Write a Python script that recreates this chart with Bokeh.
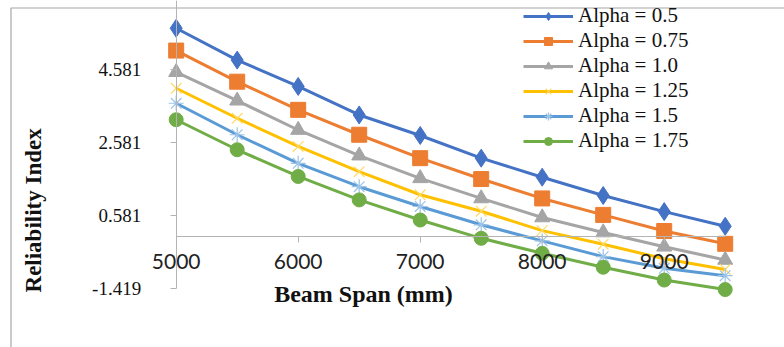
from bokeh.plotting import figure
from bokeh.models import (Range1d, LinearAxis, FixedTicker, PrintfTickFormatter,
                          Legend, LegendItem, Label)
from bokeh.embed import file_html
from bokeh.resources import INLINE

# ---- data ----
beam_span = [5000, 5500, 6000, 6500, 7000, 7500, 8000, 8500, 9000, 9500]
alpha_050 = [5.70, 4.83, 4.11, 3.33, 2.77, 2.15, 1.63, 1.13, 0.69, 0.29]
alpha_075 = [5.09, 4.24, 3.47, 2.79, 2.15, 1.58, 1.05, 0.60, 0.16, -0.19]
alpha_100 = [4.50, 3.72, 2.92, 2.22, 1.60, 1.05, 0.53, 0.12, -0.27, -0.63]
alpha_125 = [4.06, 3.24, 2.47, 1.78, 1.15, 0.70, 0.17, -0.20, -0.60, -0.89]
alpha_150 = [3.65, 2.79, 2.01, 1.37, 0.83, 0.33, -0.11, -0.54, -0.86, -1.06]
alpha_175 = [3.20, 2.38, 1.65, 1.01, 0.46, -0.04, -0.45, -0.83, -1.18, -1.44]
series_labels = ["Alpha = 0.5", "Alpha = 0.75", "Alpha = 1.0",
                 "Alpha = 1.25", "Alpha = 1.5", "Alpha = 1.75"]
x_ticks = [5000, 6000, 7000, 8000, 9000]
y_ticks = [-1.419, 0.581, 2.581, 4.581]
x_title = "Beam Span (mm)"
y_title = "Reliability  Index"

series = [alpha_050, alpha_075, alpha_100, alpha_125, alpha_150, alpha_175]
colors = ["#4472C4", "#ED7D31", "#A5A5A5", "#FFC000", "#5B9BD5", "#70AD47"]
marker_line = ["#4472C4", "#ED7D31", "#A5A5A5", "#FFD966", "#9DC3E6", "#70AD47"]
markers = ["diamond", "square", "triangle", "x", "asterisk", "circle"]
msizes = [18, 15, 15, 15, 15, 14]

W, H = 784, 347
X0, X1 = 3560, 9986
Y0, Y1 = -3.023, 6.458
p = figure(width=W, height=H, output_backend="svg", toolbar_location=None,
           x_axis_location=None, y_axis_location=None,
           x_range=Range1d(X0, X1), y_range=Range1d(Y0, Y1),
           min_border_left=0, min_border_right=0,
           min_border_top=0, min_border_bottom=0)
p.grid.visible = False
p.outline_line_color = None
p.background_fill_color = "white"
p.border_fill_color = "white"

# outer chart border (only its top and left edges fall inside the crop)
bx = X0 + 10.5 * (X1 - X0) / W
by = Y1 - 7.5 * (Y1 - Y0) / H
p.line([bx, bx, X1 + 100], [Y0 - 1, by, by], line_color="#a6a6a6",
       line_width=1.2, level="underlay")

axis_color = "#b4b4b4"
xaxis = LinearAxis(fixed_location=0, ticker=FixedTicker(ticks=x_ticks),
                   bounds=(5000, 9500))
xaxis.axis_line_color = axis_color
xaxis.major_tick_line_color = axis_color
xaxis.major_tick_out = 6
xaxis.major_tick_in = 0
xaxis.minor_tick_line_color = None
xaxis.major_label_text_font = "Lato"
xaxis.major_label_text_font_size = "21px"
xaxis.major_label_text_color = "#222222"
xaxis.major_label_standoff = 11
p.add_layout(xaxis, "below")

yaxis = LinearAxis(fixed_location=5000, ticker=FixedTicker(ticks=y_ticks),
                   formatter=PrintfTickFormatter(format="%.3f"),
                   bounds=(-1.419, Y1))
yaxis.axis_line_color = axis_color
yaxis.major_tick_line_color = axis_color
yaxis.major_tick_out = 6
yaxis.major_tick_in = 0
yaxis.minor_tick_line_color = None
yaxis.major_label_text_font = "Liberation Serif"
yaxis.major_label_text_font_size = "19px"
yaxis.major_label_text_color = "#111111"
yaxis.major_label_standoff = 29
p.add_layout(yaxis, "left")

items = []
for vals, c, mc, m, s, lab in zip(series, colors, marker_line, markers, msizes, series_labels):
    r_line = p.line(beam_span, vals, line_color=c, line_width=3)
    if m in ("x", "asterisk"):
        r_mark = p.scatter(beam_span, vals, marker=m, size=s, line_color=mc,
                           line_width=1.2, fill_color=None)
    else:
        r_mark = p.scatter(beam_span, vals, marker=m, size=s, line_color=c,
                           fill_color=c)
    items.append(LegendItem(label=lab, renderers=[r_line, r_mark]))

legend = Legend(items=items, location=(523, 194), orientation="vertical",
                padding=0, margin=0, spacing=0,
                glyph_width=50, glyph_height=20, label_height=20,
                label_standoff=5,
                label_text_font="Liberation Serif", label_text_font_size="21px",
                label_text_color="#111111",
                border_line_color=None, background_fill_alpha=0)
p.add_layout(legend, "center")

p.add_layout(Label(x=363, y=H - 293, x_units="screen", y_units="screen",
                   text=x_title, text_font="Liberation Serif",
                   text_font_size="24px", text_font_style="bold",
                   text_align="center", text_baseline="middle",
                   text_color="#111111"))
p.add_layout(Label(x=33, y=H - 207, x_units="screen", y_units="screen",
                   text=y_title, angle=1.5708, text_font="Liberation Serif",
                   text_font_size="23px", text_font_style="bold",
                   text_align="center", text_baseline="middle",
                   text_color="#111111"))

open("out.html", "w").write(file_html(p, INLINE))
